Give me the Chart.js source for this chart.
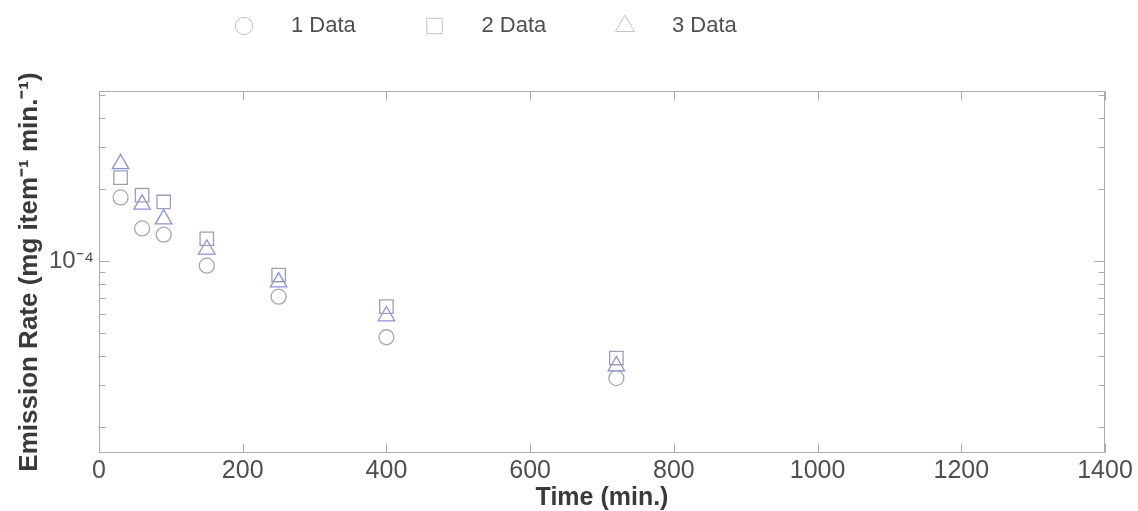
<!DOCTYPE html>
<html>
<head>
<meta charset="utf-8">
<script src="https://cdn.jsdelivr.net/npm/chart.js@4.4.1/dist/chart.umd.min.js"></script>
<style>
  html, body { margin:0; padding:0; background:#fff; }
  #wrap { width:1138px; height:511px; }
</style>
</head>
<body>
<div id="wrap"><canvas id="emission" width="1138" height="511"></canvas></div>
<script>
/* emission rate vs time, three runs, log y axis */

const times = [30, 60, 90, 150, 250, 400, 720];
const run1  = [1.85e-4, 1.37e-4, 1.29e-4, 9.56e-5, 7.08e-5, 4.78e-5, 3.22e-5];
const run2  = [2.24e-4, 1.89e-4, 1.77e-4, 1.24e-4, 8.73e-5, 6.43e-5, 3.91e-5];
const run3  = [2.56e-4, 1.73e-4, 1.50e-4, 1.12e-4, 8.15e-5, 5.87e-5, 3.62e-5];
const runNames = ['1 Data', '2 Data', '3 Data'];

const xTicks = [0, 200, 400, 600, 800, 1000, 1200, 1400];
const yTicks = [2e-5, 3e-5, 4e-5, 5e-5, 6e-5, 7e-5, 8e-5, 9e-5, 1e-4, 2e-4, 3e-4, 4e-4, 5e-4];
const yMajor = [1e-4];
const yMin = 1.56e-5, yMax = 5.18e-4;

const FONT = '"Liberation Sans", Arial, Helvetica, sans-serif';
const TEXT = '#4f4f4f';
const AXIS = '#ababab';

const styles = [
  { pointStyle:'circle',   color:'#a7a7b0', radius:7.5 },
  { pointStyle:'rect',     color:'#9e9eb6', radius:9.5 },
  { pointStyle:'triangle', color:'#8b92d8', radius:9.5 },
];

function drawMarker(ctx, style, x, y, r) {
  ctx.beginPath();
  if (style === 'circle') {
    ctx.arc(x, y, r, 0, Math.PI * 2);
  } else if (style === 'rect') {
    const s = r * Math.SQRT1_2;
    ctx.rect(x - s, y - s, 2 * s, 2 * s);
  } else {
    for (let i = 0; i < 3; i++) {
      const a = i * 2 * Math.PI / 3;
      const px = x + Math.sin(a) * r, py = y - Math.cos(a) * r;
      i ? ctx.lineTo(px, py) : ctx.moveTo(px, py);
    }
    ctx.closePath();
  }
  ctx.stroke();
}

// box round the plot with inward tick marks on all four sides
const boxTicks = {
  id: 'boxTicks',
  beforeDatasetsDraw(chart) {
    const { ctx, chartArea: a, scales: { x, y } } = chart;
    const L = Math.round(a.left) + 0.5, R = Math.round(a.right) - 0.5;
    const T = Math.round(a.top) + 0.5, B = Math.round(a.bottom) - 0.5;
    ctx.save();
    ctx.strokeStyle = AXIS;
    ctx.lineWidth = 1;
    ctx.strokeRect(L, T, R - L, B - T);
    ctx.beginPath();
    x.ticks.forEach(t => {
      const px = Math.round(x.getPixelForValue(t.value)) + 0.5;
      ctx.moveTo(px, B); ctx.lineTo(px, B - 9);
      ctx.moveTo(px, T); ctx.lineTo(px, T + 9);
    });
    y.ticks.forEach(t => {
      const py = Math.round(y.getPixelForValue(t.value)) + 0.5;
      const len = yMajor.includes(t.value) ? 10 : 6;
      ctx.moveTo(L, py); ctx.lineTo(L + len, py);
      ctx.moveTo(R, py); ctx.lineTo(R - len, py);
    });
    ctx.stroke();
    ctx.restore();
  }
};

// one-row legend above the plot
const rowLegend = {
  id: 'rowLegend',
  afterDraw(chart, args, opts) {
    const { ctx } = chart;
    ctx.save();
    ctx.font = `${opts.size}px ${FONT}`;
    ctx.textBaseline = 'middle';
    ctx.fillStyle = TEXT;
    chart.data.datasets.forEach((ds, i) => {
      const cx = opts.x0 + i * opts.dx;
      ctx.strokeStyle = opts.markColor;
      ctx.lineWidth = 1;
      drawMarker(ctx, ds.pointStyle, cx, opts.y, ds.pointRadius * opts.markScale);
      ctx.fillText(ds.label, cx + opts.gap, opts.y);
    });
    ctx.restore();
  }
};

const runs = [run1, run2, run3];

new Chart(document.getElementById('emission'), {
  type: 'scatter',
  data: {
    datasets: runs.map((vals, i) => ({
      label: runNames[i],
      data: times.map((t, j) => ({ x: t, y: vals[j] })),
      pointStyle: styles[i].pointStyle,
      pointRadius: styles[i].radius,
      pointBorderColor: styles[i].color,
      pointBackgroundColor: 'rgba(0,0,0,0)',
      pointBorderWidth: 1.3,
      showLine: false,
    })),
  },
  options: {
    responsive: false,
    animation: false,
    layout: { padding: { top: 91, right: 33, left: 0, bottom: 0 } },
    plugins: {
      legend: { display: false },
      tooltip: { enabled: false },
      rowLegend: { x0: 244, dx: 190.5, gap: 47, y: 26, size: 22,
                   markColor: '#c2c2c8', markScale: 1.15 },
    },
    scales: {
      x: {
        type: 'linear', min: 0, max: 1400,
        afterBuildTicks: s => { s.ticks = xTicks.map(v => ({ value: v })); },
        afterFit: s => { s.height = 58; },
        grid: { display: false, drawTicks: false, tickLength: 0 }, border: { display: false },
        ticks: { color: TEXT, padding: 3, autoSkip: false, maxRotation: 0,
                 font: { family: FONT, size: 25 },
                 callback: v => String(v) },
        title: { display: true, text: 'Time (min.)', color: '#3a3a3a',
                 padding: { top: 0, bottom: 0 },
                 font: { family: FONT, size: 25, weight: 'bold', lineHeight: 1 } },
      },
      y: {
        type: 'logarithmic', min: yMin, max: yMax,
        afterBuildTicks: s => { s.ticks = yTicks.map(v => ({ value: v })); },
        afterFit: s => { s.width = 99; },
        grid: { display: false, drawTicks: false, tickLength: 0 }, border: { display: false },
        ticks: { color: TEXT, padding: 5, autoSkip: false,
                 font: { family: FONT, size: 24 },
                 callback: v => yMajor.includes(v) ? '10⁻⁴' : '' },
        title: { display: true, text: 'Emission Rate (mg item⁻¹ min.⁻¹)', color: '#3a3a3a',
                 padding: { top: 17, bottom: 0 },
                 font: { family: FONT, size: 26, weight: 'bold', lineHeight: 1 } },
      },
    },
  },
  plugins: [boxTicks, rowLegend],
});
</script>
</body>
</html>
